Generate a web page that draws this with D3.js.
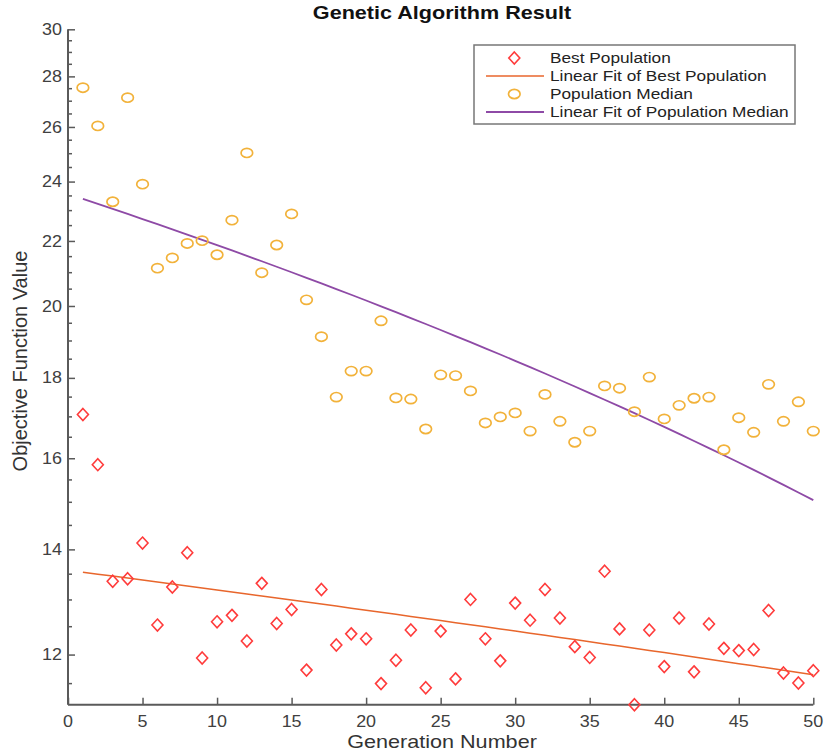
<!DOCTYPE html>
<html>
<head>
<meta charset="utf-8">
<script src="https://cdn.jsdelivr.net/npm/d3@7"></script>
<style>
  body { margin: 0; background: #fff; }
  svg { display: block; font-family: "Liberation Sans", Arial, sans-serif; }
</style>
</head>
<body>
<svg width="825" height="756"></svg>
<script>
// generation numbers 1..50
const generations = d3.range(1, 51);

// best population per generation
const bestPopulation = [
    17.06, 15.85, 13.36, 13.41, 14.13, 12.53, 13.25, 13.93, 11.94, 12.59,
    12.71, 12.24, 13.32, 12.56, 12.82, 11.73, 13.20, 12.17, 12.37, 12.28,
    11.50, 11.90, 12.44, 11.43, 12.42, 11.58, 13.01, 12.28, 11.89, 12.94,
    12.62, 13.20, 12.66, 12.14, 11.95, 13.56, 12.46, 11.15, 12.44, 11.79,
    12.66, 11.70, 12.55, 12.11, 12.07, 12.09, 12.80, 11.68, 11.51, 11.72
];

// population median per generation
const populationMedian = [
    27.54, 26.04, 23.30, 27.14, 23.91, 21.14, 21.46, 21.92, 22.01, 21.56,
    22.68, 25.03, 21.00, 21.87, 22.89, 20.18, 19.12, 17.50, 18.18, 18.18,
    19.57, 17.48, 17.45, 16.70, 18.08, 18.06, 17.66, 16.85, 17.00, 17.10,
    16.65, 17.57, 16.89, 16.38, 16.65, 17.79, 17.73, 17.13, 18.02, 16.95,
    17.29, 17.47, 17.50, 16.20, 16.98, 16.62, 17.83, 16.89, 17.38, 16.65
];

const xTicks = [0, 5, 10, 15, 20, 25, 30, 35, 40, 45, 50];
const yTicks = [12, 14, 16, 18, 20, 22, 24, 26, 28, 30];
const yMinorTicks = d3.range(11.5, 30.01, 0.5).filter(v => !yTicks.includes(v));

const legendLabels = [
    "Best Population",
    "Linear Fit of Best Population",
    "Population Median",
    "Linear Fit of Population Median"
];

const colors = {
    best: "#ff3b3b",
    bestFit: "#e8662c",
    median: "#f2b23a",
    medianFit: "#8e4aa6",
    axis: "#5a5a5a",
    text: "#404040"
};

const svg = d3.select("svg");
const plotLeft = 68, plotRight = 813.3, plotTop = 29.3, plotBottom = 704.7;

const x = d3.scaleLinear().domain([0, 50]).range([plotLeft, plotRight]);
const y = d3.scaleLog().domain([11.15, 30]).range([plotBottom, plotTop]);

// the original figure is a little wider than tall, so text is stretched
const stretch = (px, py, s) => `translate(${px},${py}) scale(${s},1)`;

// least squares line
function linearFit(xs, ys) {
    const mx = d3.mean(xs), my = d3.mean(ys);
    const b = d3.sum(xs, (v, i) => (v - mx) * (ys[i] - my)) / d3.sum(xs, v => (v - mx) ** 2);
    return v => my + b * (v - mx);
}

const bestFit = linearFit(generations, bestPopulation);
const medianFit = linearFit(generations, populationMedian);

// title
svg.append("text")
    .attr("transform", stretch(442, 18.5, 1.2))
    .attr("text-anchor", "middle")
    .attr("font-size", 18).attr("font-weight", "bold")
    .attr("fill", "#111")
    .text("Genetic Algorithm Result");

// y axis
const yAxis = svg.append("g").attr("transform", `translate(${plotLeft},0)`);
yAxis.call(d3.axisRight(y).tickValues(yTicks).tickSize(7).tickFormat(""))
    .call(g => g.select(".domain").remove());
yAxis.selectAll("line.minor").data(yMinorTicks).join("line")
    .attr("class", "minor")
    .attr("x1", 0).attr("x2", 4)
    .attr("y1", d => y(d)).attr("y2", d => y(d));
yAxis.selectAll("line").attr("stroke", colors.axis).attr("stroke-width", 1.5);
yAxis.append("line")
    .attr("y1", plotTop).attr("y2", plotBottom)
    .attr("stroke", colors.axis).attr("stroke-width", 2);
yAxis.selectAll("text.lab").data(yTicks).join("text")
    .attr("class", "lab")
    .attr("transform", d => stretch(-6, y(d), 1.12))
    .attr("dy", "0.35em")
    .attr("text-anchor", "end")
    .attr("font-size", 16).attr("fill", colors.text)
    .text(d => d);

// x axis
const xAxis = svg.append("g").attr("transform", `translate(0,${plotBottom})`);
xAxis.call(d3.axisTop(x).tickValues(xTicks).tickSize(7).tickFormat(""))
    .call(g => g.select(".domain").remove());
xAxis.selectAll("line").attr("stroke", colors.axis).attr("stroke-width", 1.5);
xAxis.append("line")
    .attr("x1", plotLeft).attr("x2", plotRight)
    .attr("stroke", colors.axis).attr("stroke-width", 2);
xAxis.selectAll("text.lab").data(xTicks).join("text")
    .attr("class", "lab")
    .attr("transform", d => stretch(x(d), 22, 1.12))
    .attr("text-anchor", "middle")
    .attr("font-size", 16).attr("fill", colors.text)
    .text(d => d);

// axis labels
svg.append("text")
    .attr("transform", stretch(442, 748, 1.2))
    .attr("text-anchor", "middle")
    .attr("font-size", 18).attr("fill", "#333")
    .text("Generation Number");

svg.append("text")
    .attr("transform", `translate(27,361) rotate(-90)`)
    .attr("text-anchor", "middle")
    .attr("font-size", 20).attr("fill", "#333")
    .text("Objective Function Value");

// fit lines
const line = d3.line().x(d => x(d[0])).y(d => y(d[1]));

svg.append("path")
    .attr("d", line(generations.map(g => [g, medianFit(g)])))
    .attr("fill", "none").attr("stroke", colors.medianFit).attr("stroke-width", 1.8);

svg.append("path")
    .attr("d", line(generations.map(g => [g, bestFit(g)])))
    .attr("fill", "none").attr("stroke", colors.bestFit).attr("stroke-width", 1.5);

// markers
const diamond = (cx, cy) => `M${cx},${cy - 6}L${cx + 5.5},${cy}L${cx},${cy + 6}L${cx - 5.5},${cy}Z`;

svg.append("g").selectAll("ellipse")
    .data(generations)
    .join("ellipse")
    .attr("cx", d => x(d))
    .attr("cy", (d, i) => y(populationMedian[i]))
    .attr("rx", 5.8).attr("ry", 4.6)
    .attr("fill", "none").attr("stroke", colors.median).attr("stroke-width", 1.7);

svg.append("g").selectAll("path")
    .data(generations)
    .join("path")
    .attr("d", (d, i) => diamond(x(d), y(bestPopulation[i])))
    .attr("fill", "none").attr("stroke", colors.best).attr("stroke-width", 1.6);

// legend
const legend = svg.append("g");
legend.append("rect")
    .attr("x", 474).attr("y", 45).attr("width", 321).attr("height", 79)
    .attr("fill", "#fff").attr("stroke", "#777").attr("stroke-width", 1.5);

const rowY = i => 58 + i * 18;
legend.append("path").attr("d", diamond(514.3, rowY(0)))
    .attr("fill", "none").attr("stroke", colors.best).attr("stroke-width", 1.6);
legend.append("line").attr("x1", 486).attr("x2", 544).attr("y1", rowY(1)).attr("y2", rowY(1))
    .attr("stroke", colors.bestFit).attr("stroke-width", 1.5);
legend.append("ellipse").attr("cx", 514.3).attr("cy", rowY(2)).attr("rx", 5.8).attr("ry", 4.6)
    .attr("fill", "none").attr("stroke", colors.median).attr("stroke-width", 1.7);
legend.append("line").attr("x1", 486).attr("x2", 544).attr("y1", rowY(3)).attr("y2", rowY(3))
    .attr("stroke", colors.medianFit).attr("stroke-width", 1.8);

legend.selectAll("text").data(legendLabels).join("text")
    .attr("transform", (d, i) => stretch(550, rowY(i), 1.15))
    .attr("dy", "0.35em")
    .attr("font-size", 15).attr("fill", "#222")
    .text(d => d);
</script>
</body>
</html>
